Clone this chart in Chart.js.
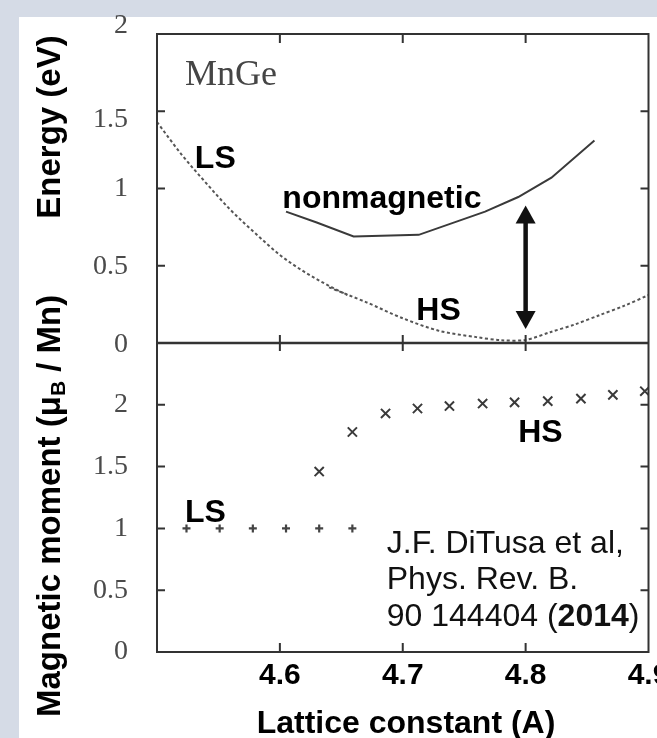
<!DOCTYPE html>
<html>
<head>
<meta charset="utf-8">
<script src="https://cdn.jsdelivr.net/npm/chart.js@4.4.1/dist/chart.umd.min.js"></script>
<style>
  html, body { margin: 0; padding: 0; background: #ffffff; }
  #wrap { position: relative; width: 657px; height: 738px; }
</style>
</head>
<body>
<div id="wrap"><canvas id="c" width="657" height="738"></canvas></div>
<script>
// Total energy (eV) versus lattice constant (Å) for MnGe
const lsEnergyX = [4.50, 4.52, 4.54, 4.56, 4.58, 4.60, 4.62, 4.64, 4.655];
const lsEnergyY = [1.43, 1.22, 1.035, 0.86, 0.71, 0.57, 0.46, 0.37, 0.31];
const hsEnergyX = [4.64, 4.67, 4.70, 4.73, 4.76, 4.78, 4.80, 4.82, 4.84, 4.86, 4.88, 4.90];
const hsEnergyY = [0.36, 0.265, 0.16, 0.078, 0.038, 0.018, 0.02, 0.07, 0.12, 0.18, 0.24, 0.31];
const nmEnergyX = [4.605, 4.63, 4.66, 4.713, 4.767, 4.794, 4.821, 4.856];
const nmEnergyY = [0.85, 0.78, 0.69, 0.70, 0.85, 0.945, 1.07, 1.31];

// Mn magnetic moment (μB / Mn)
const lsMomentX = [4.524, 4.551, 4.578, 4.605, 4.632, 4.659];
const lsMomentY = [1.0, 1.0, 1.0, 1.0, 1.0, 1.0];
const hsMomentX = [4.632, 4.659, 4.686, 4.712, 4.738, 4.765, 4.791, 4.818, 4.845, 4.871, 4.897];
const hsMomentY = [1.46, 1.78, 1.93, 1.97, 1.99, 2.01, 2.02, 2.03, 2.05, 2.08, 2.11];

// Axis ticks
const xTicks = [4.6, 4.7, 4.8, 4.9];
const energyTicks = [0, 0.5, 1, 1.5, 2];
const momentTicks = [0, 0.5, 1, 1.5, 2];

// Energy gap between nonmagnetic and HS states at a = 4.8
const gapArrow = { x: 4.8, from: 0.09, to: 0.89 };

const pts = (xs, ys) => xs.map((x, i) => ({ x: x, y: ys[i] }));

const SANS = '"Liberation Sans", Arial, Helvetica, sans-serif';
const SERIF = '"Liberation Serif", "Times New Roman", serif';
const BOLD = 'bold 32px ' + SANS;
const TICK_SERIF = '28px ' + SERIF;
const TICK_GREY = '#4a4a4a';
// vertical nudge (px) of the energy tick labels, one per entry of energyTicks
const energyLabelShift = [2, 1, 0, 8, -8];

// In-plot labels, positioned in data units
const notes = [
  { text: 'MnGe', axis: 'yE', x: 4.5227, y: 1.67, font: '36px ' + SERIF, color: '#454545' },
  { text: 'LS', axis: 'yE', x: 4.5308, y: 1.133, font: BOLD, color: '#000' },
  { text: 'nonmagnetic', axis: 'yE', x: 4.602, y: 0.874, font: BOLD, color: '#000' },
  { text: 'HS', axis: 'yE', x: 4.711, y: 0.149, font: BOLD, color: '#000' },
  { text: 'HS', axis: 'yM', x: 4.794, y: 1.70, font: BOLD, color: '#000' },
  { text: 'LS', axis: 'yM', x: 4.5227, y: 1.052, font: BOLD, color: '#000' }
];
const citation = [
  [{ t: 'J.F. DiTusa et al,' }],
  [{ t: 'Phys. Rev. B.' }],
  [{ t: '90 144404 (' }, { t: '2014', b: true }, { t: ')' }]
];
const citationAt = { x: 4.687, y: [0.80, 0.51, 0.21] };

const pageFrame = {
  id: 'pageFrame',
  beforeDraw(chart) {
    const { ctx, width, height } = chart;
    ctx.save();
    ctx.fillStyle = '#d5dbe6';
    ctx.fillRect(0, 0, width, height);
    ctx.fillStyle = '#ffffff';
    ctx.fillRect(19, 17, width - 19, height - 17);
    ctx.restore();
  }
};

const boxAndTicks = {
  id: 'boxAndTicks',
  afterDatasetsDraw(chart) {
    const { ctx, chartArea: a, scales } = chart;
    const sx = scales.x, yE = scales.yE, yM = scales.yM;
    const mid = yE.getPixelForValue(0);
    ctx.save();
    ctx.strokeStyle = '#333';
    ctx.lineWidth = 2;
    ctx.strokeRect(a.left, a.top, a.right - a.left, a.bottom - a.top);
    ctx.lineWidth = 2.5;
    ctx.beginPath();
    ctx.moveTo(a.left, mid); ctx.lineTo(a.right, mid);
    ctx.stroke();
    ctx.lineWidth = 2;
    ctx.beginPath();
    xTicks.forEach(v => {
      const px = sx.getPixelForValue(v);
      if (px >= a.right - 2) return;
      ctx.moveTo(px, a.top); ctx.lineTo(px, a.top + 9);
      ctx.moveTo(px, mid - 8); ctx.lineTo(px, mid + 8);
      ctx.moveTo(px, a.bottom); ctx.lineTo(px, a.bottom - 9);
    });
    energyTicks.forEach(v => {
      const py = yE.getPixelForValue(v);
      if (py <= a.top + 2 || py >= mid - 2) return;
      ctx.moveTo(a.left, py); ctx.lineTo(a.left + 8, py);
      ctx.moveTo(a.right, py); ctx.lineTo(a.right - 8, py);
    });
    momentTicks.forEach(v => {
      const py = yM.getPixelForValue(v);
      if (py >= a.bottom - 2) return;
      ctx.moveTo(a.left, py); ctx.lineTo(a.left + 8, py);
      ctx.moveTo(a.right, py); ctx.lineTo(a.right - 8, py);
    });
    ctx.stroke();

    // double-headed arrow marking the energy gap
    const ax = sx.getPixelForValue(gapArrow.x);
    const aTop = yE.getPixelForValue(gapArrow.to);
    const aBot = yE.getPixelForValue(gapArrow.from);
    const head = 18, half = 10;
    ctx.fillStyle = '#111';
    ctx.strokeStyle = '#111';
    ctx.lineWidth = 4.5;
    ctx.beginPath();
    ctx.moveTo(ax, aTop + head - 2); ctx.lineTo(ax, aBot - head + 2);
    ctx.stroke();
    ctx.beginPath();
    ctx.moveTo(ax, aTop); ctx.lineTo(ax - half, aTop + head); ctx.lineTo(ax + half, aTop + head);
    ctx.closePath(); ctx.fill();
    ctx.beginPath();
    ctx.moveTo(ax, aBot); ctx.lineTo(ax - half, aBot - head); ctx.lineTo(ax + half, aBot - head);
    ctx.closePath(); ctx.fill();
    ctx.restore();
  }
};

const textLayer = {
  id: 'textLayer',
  afterDraw(chart) {
    const { ctx, scales, chartArea: a } = chart;
    const sx = scales.x;
    ctx.save();

    // energy tick labels
    ctx.font = TICK_SERIF;
    ctx.fillStyle = TICK_GREY;
    ctx.textAlign = 'right';
    ctx.textBaseline = 'middle';
    energyTicks.forEach((v, i) => {
      ctx.fillText(String(v), a.left - 29, scales.yE.getPixelForValue(v) + energyLabelShift[i]);
    });

    ctx.textBaseline = 'alphabetic';
    ctx.textAlign = 'left';
    notes.forEach(n => {
      ctx.font = n.font;
      ctx.fillStyle = n.color;
      ctx.fillText(n.text, sx.getPixelForValue(n.x), scales[n.axis].getPixelForValue(n.y));
    });

    // reference block
    ctx.fillStyle = '#111';
    citation.forEach((line, i) => {
      let px = sx.getPixelForValue(citationAt.x);
      const py = scales.yM.getPixelForValue(citationAt.y[i]);
      line.forEach(seg => {
        ctx.font = (seg.b ? 'bold ' : '') + '32px ' + SANS;
        ctx.fillText(seg.t, px, py);
        px += ctx.measureText(seg.t).width;
      });
    });

    // axis titles
    ctx.fillStyle = '#000';
    ctx.font = 'bold 32px ' + SANS;
    ctx.textAlign = 'center';
    ctx.fillText('Lattice constant (A)', 406, 733);

    ctx.translate(60, 0);
    ctx.rotate(-Math.PI / 2);
    ctx.font = 'bold 33px ' + SANS;
    ctx.textAlign = 'center';
    ctx.fillText('Energy (eV)', -127, 0);

    ctx.textAlign = 'left';
    let t = -717;
    const parts = [
      { s: 'Magnetic moment (\u03bc', f: 'bold 33px ' + SANS, dy: 0 },
      { s: 'B', f: 'bold 21px ' + SANS, dy: 5 },
      { s: ' / Mn)', f: 'bold 33px ' + SANS, dy: 0 }
    ];
    parts.forEach(p => {
      ctx.font = p.f;
      ctx.fillText(p.s, t, p.dy);
      t += ctx.measureText(p.s).width;
    });
    ctx.restore();
  }
};

const zeroPad = s => { s.paddingLeft = 0; s.paddingRight = 0; s.paddingTop = 0; s.paddingBottom = 0; };

new Chart(document.getElementById('c'), {
  type: 'scatter',
  data: {
    datasets: [
      { label: 'LS energy', data: pts(lsEnergyX, lsEnergyY), yAxisID: 'yE', showLine: true,
        borderColor: '#555', borderWidth: 2, borderDash: [3, 2.5], pointRadius: 0,
        cubicInterpolationMode: 'monotone' },
      { label: 'HS energy', data: pts(hsEnergyX, hsEnergyY), yAxisID: 'yE', showLine: true,
        borderColor: '#555', borderWidth: 2, borderDash: [3, 2.5], pointRadius: 0, tension: 0.3 },
      { label: 'nonmagnetic', data: pts(nmEnergyX, nmEnergyY), yAxisID: 'yE', showLine: true,
        borderColor: '#3a3a3a', borderWidth: 2, pointRadius: 0, tension: 0 },
      { label: 'LS moment', data: pts(lsMomentX, lsMomentY), yAxisID: 'yM', showLine: false,
        pointStyle: 'cross', pointRadius: 4, borderColor: '#444', borderWidth: 2.2 },
      { label: 'HS moment', data: pts(hsMomentX, hsMomentY), yAxisID: 'yM', showLine: false,
        pointStyle: 'crossRot', pointRadius: 6.5, borderColor: '#3a3a3a', borderWidth: 2 }
    ]
  },
  options: {
    responsive: false,
    animation: false,
    devicePixelRatio: 1,
    layout: { padding: { left: 0, top: 34, right: 4, bottom: 0 } },
    plugins: { legend: { display: false }, tooltip: { enabled: false }, title: { display: false } },
    scales: {
      x: {
        type: 'linear', position: 'bottom', min: 4.5, max: 4.9,
        afterBuildTicks: s => { s.ticks = xTicks.map(v => ({ value: v })); },
        ticks: { color: '#000', padding: 6, maxRotation: 0, autoSkip: false,
          font: { family: SANS, weight: 'bold', size: 30 },
          callback: v => v.toFixed(1) },
        grid: { display: false, drawTicks: false },
        border: { display: false },
        afterFit: s => { s.height = 86; zeroPad(s); }
      },
      yM: {
        type: 'linear', position: 'left', stack: 'panels', stackWeight: 1, min: 0, max: 2.5,
        afterBuildTicks: s => { s.ticks = momentTicks.map(v => ({ value: v })); },
        ticks: { color: TICK_GREY, padding: 29, font: { family: SERIF, size: 28 },
          callback: v => String(v) },
        grid: { display: false, drawTicks: false },
        border: { display: false },
        afterFit: s => { s.width = 157; zeroPad(s); }
      },
      yE: {
        type: 'linear', position: 'left', stack: 'panels', stackWeight: 1, min: 0, max: 2,
        afterBuildTicks: s => { s.ticks = energyTicks.map(v => ({ value: v })); },
        ticks: { display: false },
        grid: { display: false, drawTicks: false },
        border: { display: false },
        afterFit: s => { s.width = 157; zeroPad(s); }
      }
    }
  },
  plugins: [pageFrame, boxAndTicks, textLayer]
});
</script>
</body>
</html>
